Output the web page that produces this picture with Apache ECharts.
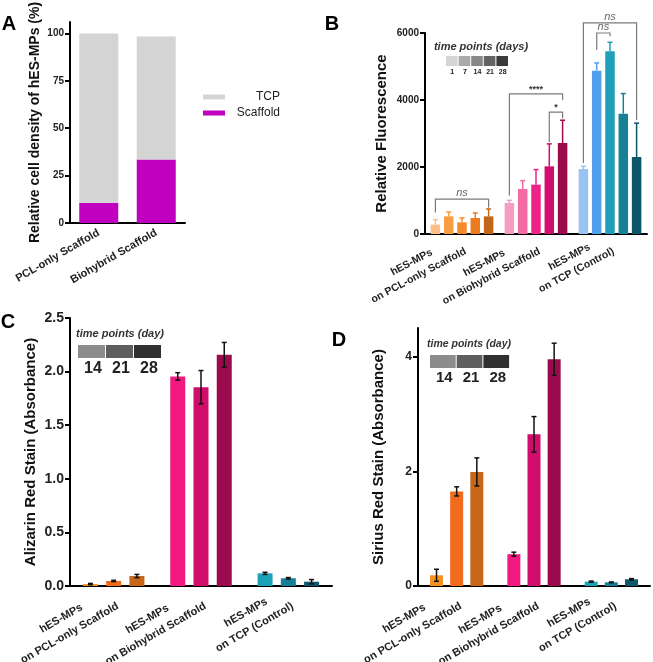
<!DOCTYPE html>
<html><head><meta charset="utf-8">
<script src="https://cdn.jsdelivr.net/npm/echarts@6/dist/echarts.min.js"></script>
<style>html,body{margin:0;padding:0;background:#fff}#c{width:653px;height:662px}</style>
</head><body><div id="c"></div>
<script>
// ---------- Panel A ----------
const aCategories = ['PCL-only Scaffold', 'Biohybrid Scaffold'];
const aScaffold = [10.5, 33.5];
const aTCP = [89.5, 64.8];
const aTicks = [0, 25, 50, 75, 100];

// ---------- shared group categories ----------
const groupCategories = ['hES-MPs\non PCL-only Scaffold', 'hES-MPs\non Biohybrid Scaffold', 'hES-MPs\non TCP (Control)'];

// ---------- Panel B (relative fluorescence, days 1..28) ----------
const bDays = ['1', '7', '14', '21', '28'];
const bDay1 = [280, 925, 1940];
const bDay7 = [527, 1343, 4876];
const bDay14 = [348, 1473, 5453];
const bDay21 = [478, 2020, 3592];
const bDay28 = [527, 2716, 2299];
const bErr1 = [150, 80, 80];
const bErr7 = [130, 250, 230];
const bErr14 = [130, 450, 270];
const bErr21 = [150, 670, 600];
const bErr28 = [220, 680, 1010];
const bTicks = [0, 2000, 4000, 6000];
// significance brackets
const bBrackets = [
  { cat: 0, fromBar: 0, toBar: 4, top: 1040, leftEnd: 640, rightEnd: 780, text: 'ns' },
  { cat: 1, fromBar: 0, toBar: 4, top: 4180, leftEnd: 1150, rightEnd: 4000, text: '****' },
  { cat: 1, fromBar: 3, toBar: 4, top: 3640, leftEnd: 2750, rightEnd: 3450, text: '*' },
  { cat: 2, fromBar: 0, toBar: 4, top: 6300, leftEnd: 2120, rightEnd: 3400, text: 'ns' },
  { cat: 2, fromBar: 1, toBar: 2, top: 6000, leftEnd: 5500, rightEnd: 5900, text: 'ns' }
];

// ---------- Panel C (Alizarin red) ----------
const cdDays = ['14', '21', '28'];
const cDay14 = [0.018, 1.955, 0.118];
const cDay21 = [0.047, 1.855, 0.072];
const cDay28 = [0.093, 2.157, 0.040];
const cErr14 = [0.006, 0.035, 0.010];
const cErr21 = [0.006, 0.155, 0.007];
const cErr28 = [0.015, 0.115, 0.020];
const cTicks = [0, 0.5, 1, 1.5, 2, 2.5];

// ---------- Panel D (Sirius red) ----------
const dDay14 = [0.187, 0.555, 0.076];
const dDay21 = [1.65, 2.645, 0.064];
const dDay28 = [1.99, 3.955, 0.117];
const dErr14 = [0.105, 0.035, 0.010];
const dErr21 = [0.08, 0.31, 0.006];
const dErr28 = [0.245, 0.28, 0.012];
const dTicks = [0, 2, 4];

// ---------- styles ----------
const aColors = { TCP: '#d4d4d4', Scaffold: '#bf00bf' };
const bColors = [
  ['#fbc08a', '#f89e42', '#f68a2a', '#ee7a1e', '#c4661a'],
  ['#f49cc6', '#f46aa2', '#ee2388', '#cf0f6a', '#9c0c4d'],
  ['#98c4f2', '#529ff0', '#1f9fb8', '#177f96', '#0c566a']
];
const cdColors = [
  ['#f7901e', '#f26a1b', '#c8661a'],
  ['#f21a80', '#d10d6b', '#9c0a4e'],
  ['#1ba2b8', '#147f97', '#0e596d']
];
const legendGreysB = ['#d4d4d4', '#aaaaaa', '#888888', '#636363', '#3a3a3a'];
const legendGreysCD = ['#8c8c8c', '#5e5e5e', '#303030'];

const FONT = '"Liberation Sans", Arial, sans-serif';

function barCenterOffset(n, w, gap, i) {
  const total = n * w * (1 + gap) - w * gap;
  return -total / 2 + i * w * (1 + gap) + w / 2;
}

function groupLabel(fs, rot, margin, lh) {
  return {
    interval: 0, rotate: rot, margin: margin,
    fontFamily: FONT, fontWeight: 'bold', fontSize: fs, color: '#222',
    formatter: v => v.split('\n').map(s => '{c|' + s + '}').join('\n'),
    rich: { c: { align: 'center', fontFamily: FONT, fontWeight: 'bold', fontSize: fs, color: '#222', lineHeight: lh } }
  };
}

function xAxisBase(gi, data, labelOpt) {
  return {
    type: 'category', gridIndex: gi, data: data,
    axisLine: { lineStyle: { color: '#000', width: 2 } },
    axisTick: { alignWithLabel: true, length: 5, lineStyle: { color: '#000', width: 2 } },
    axisLabel: labelOpt, splitLine: { show: false }
  };
}

function yAxisBase(gi, max, ticks, fs, name, nameGap, nameFs, fmt) {
  return {
    type: 'value', gridIndex: gi, min: 0, max: max,
    axisLine: { show: true, lineStyle: { color: '#000', width: 2 } },
    axisTick: { show: true, length: 5, lineStyle: { color: '#000', width: 2 }, customValues: ticks },
    axisLabel: { fontFamily: FONT, fontWeight: 'bold', fontSize: fs, color: '#222', margin: 6, customValues: ticks, formatter: fmt || (v => String(v)) },
    splitLine: { show: false },
    name: name, nameLocation: 'middle', nameGap: nameGap,
    nameTextStyle: { fontFamily: FONT, fontWeight: 'bold', fontSize: nameFs, color: '#111' }
  };
}

function barSeries(name, xi, vals, colorsByGroup, dayIdx, w, gap) {
  return {
    type: 'bar', name: name, xAxisIndex: xi, yAxisIndex: xi,
    barWidth: w, barGap: (gap * 100) + '%',
    data: vals.map((v, k) => ({ value: v, itemStyle: { color: colorsByGroup[k][dayIdx] } })),
    silent: true
  };
}

function errSeries(xi, vals, errs, dayIdx, n, w, gap, colorFn, twoSided, capW) {
  const off = barCenterOffset(n, w, gap, dayIdx);
  return {
    type: 'custom', xAxisIndex: xi, yAxisIndex: xi, z: 5, silent: true,
    data: vals.map((v, k) => [k, v, errs[k]]),
    encode: { x: 0, y: 1 },
    renderItem: function (params, api) {
      const k = api.value(0), v = api.value(1), e = api.value(2);
      const base = api.coord([k, v]);
      const x = base[0] + off;
      const yTop = api.coord([k, v + e])[1];
      const yBot = twoSided ? api.coord([k, v - e])[1] : base[1];
      const st = { stroke: colorFn(k), lineWidth: 1.5 };
      const ch = [
        { type: 'line', shape: { x1: x, y1: yTop, x2: x, y2: yBot }, style: st },
        { type: 'line', shape: { x1: x - capW / 2, y1: yTop, x2: x + capW / 2, y2: yTop }, style: st }
      ];
      if (twoSided) ch.push({ type: 'line', shape: { x1: x - capW / 2, y1: yBot, x2: x + capW / 2, y2: yBot }, style: st });
      return { type: 'group', children: ch };
    }
  };
}

const B_W = 9.5, B_GAP = 0.4;
const C_W = 15, C_GAP = 0.55;
const D_W = 13, D_GAP = 0.55;

const bVals = [bDay1, bDay7, bDay14, bDay21, bDay28];
const bErrs = [bErr1, bErr7, bErr14, bErr21, bErr28];
const cVals = [cDay14, cDay21, cDay28];
const cErrs = [cErr14, cErr21, cErr28];
const dVals = [dDay14, dDay21, dDay28];
const dErrs = [dErr14, dErr21, dErr28];

const series = [];
// A
series.push({ type: 'bar', name: 'Scaffold', stack: 'a', xAxisIndex: 0, yAxisIndex: 0, barWidth: 39, data: aScaffold, itemStyle: { color: aColors.Scaffold }, silent: true });
series.push({ type: 'bar', name: 'TCP', stack: 'a', xAxisIndex: 0, yAxisIndex: 0, barWidth: 39, data: aTCP, itemStyle: { color: aColors.TCP }, silent: true });
// B
bVals.forEach((vals, i) => series.push(barSeries('Day ' + bDays[i], 1, vals, bColors, i, B_W, B_GAP)));
bVals.forEach((vals, i) => series.push(errSeries(1, vals, bErrs[i], i, 5, B_W, B_GAP, k => bColors[k][i], false, 5)));
series.push({
  type: 'custom', xAxisIndex: 1, yAxisIndex: 1, z: 6, silent: true,
  data: bBrackets.map(b => [b.cat, b.top]),
  encode: { x: 0, y: 1 },
  renderItem: function (params, api) {
    const b = bBrackets[params.dataIndex];
    const c = api.coord([b.cat, b.top]);
    const x1 = c[0] + barCenterOffset(5, B_W, B_GAP, b.fromBar);
    const x2 = c[0] + barCenterOffset(5, B_W, B_GAP, b.toBar);
    const yT = c[1];
    const yL = api.coord([b.cat, b.leftEnd])[1];
    const yR = api.coord([b.cat, b.rightEnd])[1];
    const st = { stroke: '#7a7a7a', lineWidth: 1.2 };
    const isNs = b.text === 'ns';
    return {
      type: 'group', children: [
        { type: 'polyline', shape: { points: [[x1, yL], [x1, yT], [x2, yT], [x2, yR]] }, style: Object.assign({ fill: null }, st) },
        { type: 'text', style: { x: (x1 + x2) / 2, y: yT - (isNs ? 1 : 0), text: b.text, align: 'center', verticalAlign: 'bottom',
          font: (isNs ? 'italic 11px ' : 'bold 9px ') + FONT, fill: isNs ? '#666' : '#333' } }
      ]
    };
  }
});
// C
cVals.forEach((vals, i) => series.push(barSeries('Day ' + cdDays[i], 2, vals, cdColors, i, C_W, C_GAP)));
cVals.forEach((vals, i) => series.push(errSeries(2, vals, cErrs[i], i, 3, C_W, C_GAP, () => '#111', true, 5)));
// D
dVals.forEach((vals, i) => series.push(barSeries('Day ' + cdDays[i], 3, vals, cdColors, i, D_W, D_GAP)));
dVals.forEach((vals, i) => series.push(errSeries(3, vals, dErrs[i], i, 3, D_W, D_GAP, () => '#111', true, 5)));

// time-point key graphics and panel letters
const graphics = [];
function letter(t, x, y) {
  graphics.push({ type: 'text', x: x, y: y, style: { text: t, font: 'bold 20px ' + FONT, fill: '#000', align: 'center', verticalAlign: 'middle' } });
}
letter('A', 9, 24); letter('B', 332, 24); letter('C', 8, 322); letter('D', 339, 340);

function key(title, titleFs, cx, ty, bx, by, bw, bh, greys, labels, labelFs, ly, labelDx) {
  graphics.push({ type: 'text', x: cx, y: ty, style: { text: title, font: 'italic bold ' + titleFs + 'px ' + FONT, fill: '#333', align: 'center', verticalAlign: 'middle' } });
  greys.forEach((g, i) => {
    graphics.push({ type: 'rect', shape: { x: bx + i * bw, y: by, width: bw - 1, height: bh }, style: { fill: g } });
    graphics.push({ type: 'text', x: bx + i * bw + bw / 2 + labelDx, y: ly, style: { text: labels[i], font: 'bold ' + labelFs + 'px ' + FONT, fill: '#222', align: 'center', verticalAlign: 'middle' } });
  });
}
key('time points (days)', 11, 481, 47, 446, 56, 12.6, 10, legendGreysB, bDays, 7, 72, 0);
key('time points (day)', 11, 120, 334, 78, 345, 28, 13, legendGreysCD, cdDays, 16, 369, 1);
key('time points (day)', 10.5, 469, 344, 430, 355, 26.7, 13, legendGreysCD, cdDays, 15, 378, 1);

const option = {
  animation: false,
  backgroundColor: '#fff',
  grid: [
    { left: 70, top: 22, width: 115, height: 201, outerBoundsMode: 'none', containLabel: false },
    { left: 425, top: 33, width: 222, height: 201, outerBoundsMode: 'none', containLabel: false },
    { left: 70, top: 318, width: 262, height: 268, outerBoundsMode: 'none', containLabel: false },
    { left: 418, top: 328, width: 232, height: 258, outerBoundsMode: 'none', containLabel: false }
  ],
  xAxis: [
    xAxisBase(0, aCategories, { interval: 0, rotate: 30, margin: 9, fontFamily: FONT, fontWeight: 'bold', fontSize: 11, color: '#222' }),
    xAxisBase(1, groupCategories, groupLabel(10.5, 28, 10, 15)),
    xAxisBase(2, groupCategories, groupLabel(11, 30, 12, 17)),
    xAxisBase(3, groupCategories, groupLabel(11, 30, 12, 17))
  ],
  yAxis: [
    yAxisBase(0, 106, aTicks, 10, 'Relative cell density of hES-MPs (%)', 28, 14),
    yAxisBase(1, 6000, bTicks, 10, 'Relative Fluorescence', 36, 15),
    yAxisBase(2, 2.5, cTicks, 14, 'Alizarin Red Stain (Absorbance)', 32, 15, v => v.toFixed(1)),
    yAxisBase(3, 4.5, dTicks, 12, 'Sirius Red Stain (Absorbance)', 32, 15)
  ],
  legend: {
    data: ['TCP', 'Scaffold'], orient: 'vertical', left: 198, top: 86,
    itemWidth: 22, itemHeight: 5, itemGap: 4, icon: 'rect', selectedMode: false,
    formatter: n => '{r|' + n + '}',
    textStyle: { fontFamily: FONT, fontSize: 12, color: '#222', rich: { r: { width: 50, align: 'right', fontFamily: FONT, fontSize: 12, color: '#222' } } }
  },
  graphic: graphics,
  series: series
};

const chart = echarts.init(document.getElementById('c'), null, { renderer: 'canvas' });
chart.setOption(option);
</script>
</body></html>
